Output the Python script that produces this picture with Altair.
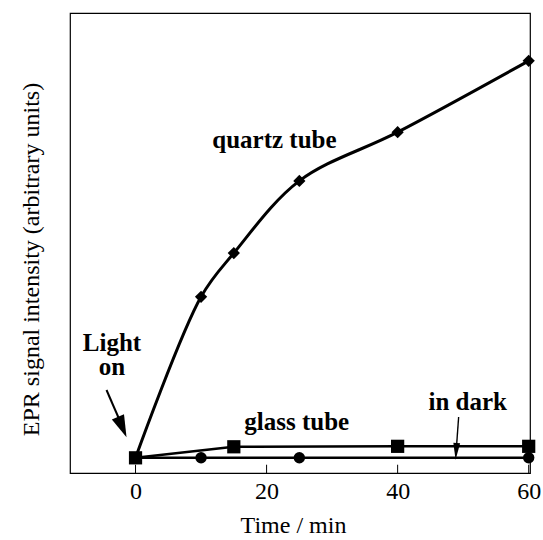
import altair as alt
import pandas as pd

# ---- data ----
quartz_t = [0, 10, 15, 25, 40, 60]
quartz_v = [3.3, 38.3, 47.8, 63.5, 74.1, 89.6]
glass_t = [0, 15, 40, 60]
glass_v = [3.3, 5.7, 5.8, 5.8]
dark_t = [0, 10, 25, 60]
dark_v = [3.3, 3.3, 3.3, 3.3]
x_ticks = [0, 20, 40, 60]

labels = ["quartz tube", "glass tube", "in dark", "Light", "on"]
label_x = [21.2, 24.6, 50.7, -3.6, -3.6]
label_y = [72.4, 11.1, 15.4, 28.3, 23.0]

FONT = "Liberation Serif"
XDOM = [-10, 60.2]
YDOM = [0, 100]


def X(field="x"):
    return alt.X(f"{field}:Q", scale=alt.Scale(domain=XDOM, nice=False, zero=False),
                 axis=alt.Axis(title="Time / min", values=x_ticks, ticks=False, domain=False,
                               grid=False, labelPadding=6, titlePadding=10, format="d",
                               titleX=223))


def Y(field="y"):
    return alt.Y(f"{field}:Q", scale=alt.Scale(domain=YDOM, nice=False),
                 axis=alt.Axis(title="EPR signal intensity (arbitrary units)", labels=False,
                               ticks=False, domain=False, grid=False, titlePadding=27,
                               titleY=246))


quartz = pd.DataFrame({"x": quartz_t, "y": quartz_v})
glass = pd.DataFrame({"x": glass_t, "y": glass_v})
dark = pd.DataFrame({"x": dark_t, "y": dark_v})

line_q = alt.Chart(quartz).mark_line(color="black", strokeWidth=3, interpolate="catmull-rom").encode(x=X(), y=Y())
line_g = alt.Chart(glass).mark_line(color="black", strokeWidth=2.5).encode(x=X(), y=Y())
line_d = alt.Chart(dark).mark_line(color="black", strokeWidth=2.5).encode(x=X(), y=Y())

pts_q = alt.Chart(quartz[quartz.x > 0]).mark_point(shape="diamond", filled=True, color="black", size=150, opacity=1).encode(x=X(), y=Y())
pts_d = alt.Chart(dark[dark.x > 0]).mark_point(shape="circle", filled=True, color="black", size=130, opacity=1).encode(x=X(), y=Y())
pts_g = alt.Chart(glass).mark_point(shape="square", filled=True, color="black", size=175, opacity=1).encode(x=X(), y=Y())

ticks_df = pd.DataFrame({"x": x_ticks, "y": [0] * 4, "y2": [1.8] * 4})
tick_rules = alt.Chart(ticks_df).mark_rule(color="black", strokeWidth=1).encode(x=X(), y=Y(), y2="y2:Q")

text_df = pd.DataFrame({"label": labels, "x": label_x, "y": label_y})
texts = alt.Chart(text_df).mark_text(font=FONT, fontSize=25, fontWeight="bold", color="black",
                                     align="center", baseline="middle").encode(x=X(), y=Y(), text="label:N")

# arrows (shaft + head)
shaft_df = pd.DataFrame({"x": [-4.43, 49.31], "y": [18.04, 12.17],
                         "x2": [-2.44, 49.0], "y2": [11.52, 6.09], "w": ["a", "b"]})
shaft_light = alt.Chart(shaft_df[shaft_df.w == "a"]).mark_rule(color="black", strokeWidth=2).encode(
    x=X(), y=Y(), x2="x2:Q", y2="y2:Q")
shaft_dark = alt.Chart(shaft_df[shaft_df.w == "b"]).mark_rule(color="black", strokeWidth=1.4).encode(
    x=X(), y=Y(), x2="x2:Q", y2="y2:Q")

head_light = alt.Chart(pd.DataFrame({"x": [-2.03], "y": [10.0]})).mark_point(
    shape="M-0.6,-1 L0.6,-1 L0,1 Z", filled=True, color="black", opacity=1, size=484, angle=337
).encode(x=X(), y=Y())
head_dark = alt.Chart(pd.DataFrame({"x": [48.93], "y": [4.67]})).mark_point(
    shape="M-0.4,-1 L0.4,-1 L0,1 Z", filled=True, color="black", opacity=1, size=289, angle=4
).encode(x=X(), y=Y())

chart = alt.layer(
    tick_rules, line_d, line_g, line_q, pts_d, pts_g, pts_q,
    shaft_light, head_light, shaft_dark, head_dark, texts
).properties(
    width=460, height=460,
    autosize=alt.AutoSizeParams(type="none"),
    padding={"left": 70, "top": 13, "right": 13, "bottom": 67},
    background="white",
).configure_view(
    stroke="black", strokeWidth=1.2
).configure_axis(
    labelFont=FONT, titleFont=FONT, labelFontSize=24, titleFontSize=24,
    titleFontWeight="normal", labelColor="black", titleColor="black"
)

chart.save("out.html", embed_options={"renderer": "svg", "actions": False})
